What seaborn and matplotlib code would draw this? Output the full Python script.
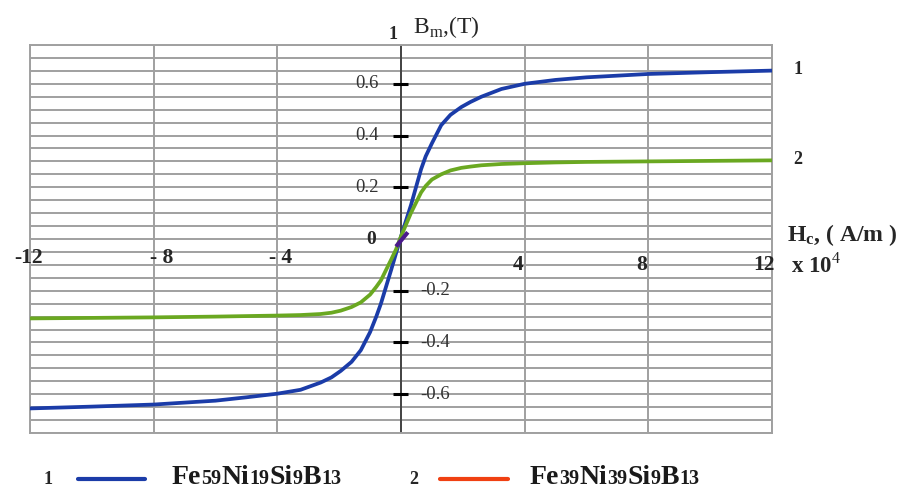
import numpy as np
import pandas as pd
import matplotlib
matplotlib.use("Agg")
import matplotlib.pyplot as plt
from matplotlib.lines import Line2D
import seaborn as sns

# H values (x 10^4 A/m)
h = [-12, -10, -8, -6, -5, -4, -3.25, -2.6, -2.25, -1.95, -1.6, -1.3, -1.0, -0.8, -0.65, -0.32, -0.16,
     0, 0.16, 0.32, 0.65, 0.8, 1.0, 1.3, 1.6, 1.95, 2.25, 2.6, 3.25, 4, 5, 6, 8, 10, 12]
# curve 1 : Fe59Ni19Si9B13
b1 = [-0.655, -0.648, -0.640, -0.625, -0.612, -0.598, -0.583, -0.555, -0.535, -0.51, -0.475, -0.43, -0.36,
      -0.30, -0.25, -0.12, -0.055,
      0.01, 0.07, 0.13, 0.27, 0.32, 0.37, 0.44, 0.48, 0.51, 0.53, 0.55, 0.58, 0.60, 0.615, 0.625, 0.638,
      0.645, 0.651]
# curve 2 : Fe39Ni39Si9B13
b2 = [-0.307, -0.305, -0.303, -0.300, -0.298, -0.296, -0.294, -0.29, -0.285, -0.277, -0.263, -0.245, -0.215,
      -0.185, -0.16, -0.08, -0.04,
      0.01, 0.055, 0.10, 0.18, 0.205, 0.23, 0.25, 0.265, 0.275, 0.28, 0.285, 0.29, 0.293, 0.296, 0.298,
      0.300, 0.302, 0.304]
# small purple piece at origin
h_mid = [-0.16, 0.22]
b_mid = [-0.029, 0.026]

x_pos_labels = ["4", "8", "12"]
x_pos_vals = [3.8, 7.77, 11.75]
x_neg_labels = ["-12", "- 8", "- 4"]
x_neg_vals = [-12.05, -7.73, -3.88]
y_ticks = [0.6, 0.4, 0.2, -0.2, -0.4, -0.6]

legend_1 = [("Fe", 0), ("59", 1), ("Ni", 0), ("19", 1), ("Si", 0), ("9", 1), ("B", 0), ("13", 1)]
legend_2 = [("Fe", 0), ("39", 1), ("Ni", 0), ("39", 1), ("Si", 0), ("9", 1), ("B", 0), ("13", 1)]

df = pd.DataFrame({"H": h * 2, "B": b1 + b2,
                   "curve": ["1"] * len(h) + ["2"] * len(h)})

sns.set_theme(style="white")
plt.rcParams["font.family"] = ["Liberation Serif", "DejaVu Serif"]
plt.rcParams["mathtext.fontset"] = "custom"
plt.rcParams["mathtext.rm"] = "Liberation Serif"
plt.rcParams["mathtext.bf"] = "Liberation Serif:bold"

fig = plt.figure(figsize=(9.02, 4.91), dpi=100)
ax = fig.add_axes([30 / 902, 58 / 491, 742 / 902, 388 / 491])

sns.lineplot(data=df, x="H", y="B", hue="curve",
             palette={"1": "#1b3ca8", "2": "#6aa821"},
             linewidth=2.7, legend=False, ax=ax, zorder=3)
ax.plot(h_mid, b_mid, color="#4b1a8c", lw=3, zorder=4, solid_capstyle="butt")

ax.set_xlim(-12, 12)
ax.set_ylim(-0.75, 0.75)
ax.set_xticks(np.arange(-12, 13, 4))
ax.set_yticks(np.round(np.arange(-0.75, 0.76, 0.05), 2))
ax.set_xticklabels([])
ax.set_yticklabels([])
ax.tick_params(length=0)
ax.grid(True, color="#a0a0a0", lw=1.4)
ax.set_xlabel("")
ax.set_ylabel("")
for s in ax.spines.values():
    s.set_color("#a0a0a0")
    s.set_linewidth(1.4)

# y axis line
ax.axvline(0, color="#444444", lw=1.4, zorder=2)
# tick dashes on the axis
ax.hlines(y_ticks, -0.26, 0.23, color="black", lw=2.2, zorder=2)

for v in y_ticks:
    if v > 0:
        ax.text(-0.71, v, f"{v:.1f}", ha="right", va="center", fontsize=13.5, color="#333333")
    else:
        ax.text(0.62, v, f"{v:.1f}", ha="left", va="center", fontsize=13.5, color="#333333")
ax.text(-0.97, 0.0, "0", ha="center", va="center", fontsize=14, fontweight="bold")

for lab, v in zip(x_neg_labels, x_neg_vals):
    ax.text(v, -0.073, lab, ha="center", va="center", fontsize=15.5, fontweight="bold", clip_on=False)
for lab, v in zip(x_pos_labels, x_pos_vals):
    ax.text(v, -0.1, lab, ha="center", va="center", fontsize=15.5, fontweight="bold", clip_on=False)
ax.text(12.62, -0.1, r"x 10$^{4}$", ha="left", va="center", fontsize=16.5, fontweight="bold", clip_on=False)
ax.text(12.5, 0.017, r"$\mathbf{H_{c}}$, ( A/m )", ha="left", va="center",
        fontsize=17, fontweight="bold", clip_on=False)

ax.text(-0.26, 0.79, "1", ha="center", va="center", fontsize=13, fontweight="bold", clip_on=False)
ax.text(0.39, 0.82, r"B$_{\mathrm{m}}$,(T)", ha="left", va="center", fontsize=17, clip_on=False)

ax.text(12.68, 0.655, "1", ha="left", va="center", fontsize=13, fontweight="bold", clip_on=False)
ax.text(12.68, 0.307, "2", ha="left", va="center", fontsize=13, fontweight="bold", clip_on=False)


# bottom legend, formula drawn piece by piece so the indices sit on the baseline
def formula(x0, y0, parts):
    r = fig.canvas.get_renderer()
    x = x0
    for s, small in parts:
        t = fig.text(x, y0, s, ha="left", va="baseline", fontweight="bold",
                     fontsize=14.5 if small else 20, color="#1a1a1a")
        bb = t.get_window_extent(renderer=r)
        x += bb.width / fig.bbox.width


yl = 1 - 479 / 491
fig.text(48 / 902, yl, "1", ha="center", va="center", fontsize=13, fontweight="bold")
fig.add_artist(Line2D([78 / 902, 145 / 902], [yl, yl], color="#1b3ca8", lw=3))
formula(172 / 902, 1 - 484 / 491, legend_1)
fig.text(414 / 902, yl, "2", ha="center", va="center", fontsize=13, fontweight="bold")
fig.add_artist(Line2D([440 / 902, 508 / 902], [yl, yl], color="#f04012", lw=3))
formula(530 / 902, 1 - 484 / 491, legend_2)

fig.savefig("out.png", dpi=100)
